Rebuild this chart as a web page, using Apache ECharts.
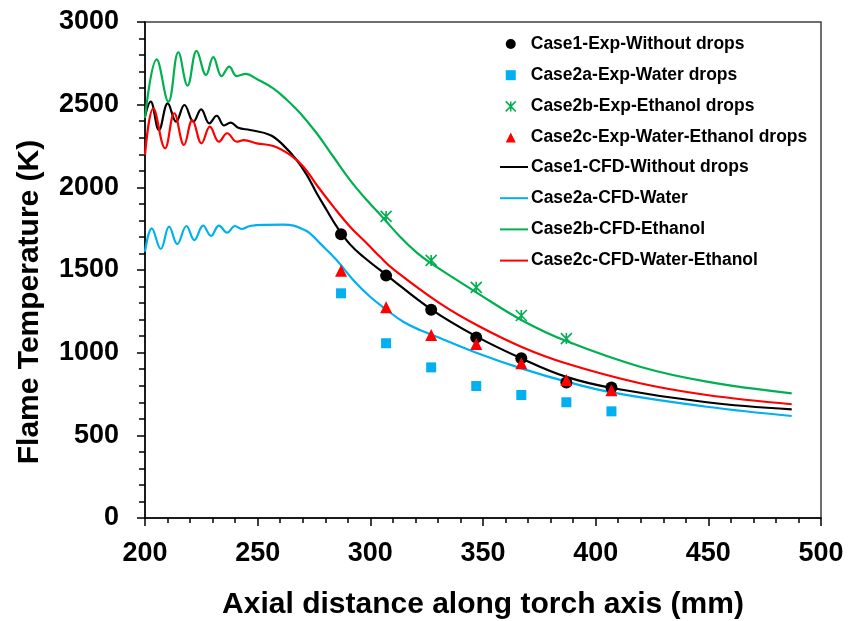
<!DOCTYPE html>
<html>
<head>
<meta charset="utf-8">
<script src="https://cdn.jsdelivr.net/npm/echarts@6/dist/echarts.min.js"></script>
<style>html,body{margin:0;padding:0;background:#fff}#c{width:850px;height:621px}</style>
</head>
<body>
<div id="c"></div>
<script>
// Experimental data
const expX = [287, 307, 327, 347, 367, 387, 407];
const expCase1 = [1716, 1466, 1260, 1092, 966, 820, 790];
const expCase2a = [1359, 1057, 911, 798, 744, 700, 645];
const expCase2bX = [307, 327, 347, 367, 387];
const expCase2b = [1824, 1558, 1395, 1225, 1085];
const expCase2c = [1496, 1274, 1107, 1052, 936, 835, 772];

// CFD curves
const cfd1X = [200, 202.5, 206.2, 210.1, 213.8, 217.5, 221.5, 224.9, 228.6, 231.8, 235.1, 238, 241.4, 246.6, 255.5, 261, 267.3, 271.8, 276.2, 280.6, 285.1, 291, 296.9, 307.3, 327, 347.2, 366.9, 386.7, 407.8, 449.3, 487];
const cfd1T = [2430, 2518, 2347, 2508, 2397, 2498, 2397, 2472, 2387, 2433, 2374, 2391, 2360, 2347, 2317, 2260, 2165, 2075, 1964, 1863, 1762, 1655, 1580, 1468, 1262, 1097, 966, 855, 785, 700, 657];

const cfd2aX = [200, 203, 207, 210.7, 214.3, 218.4, 221.9, 225.8, 229.3, 232.8, 236.5, 239.9, 242.9, 246.6, 254, 261.4, 266, 270.3, 273.2, 277.7, 285, 292.4, 299.9, 307.3, 314.6, 322, 327, 347, 367, 387, 407.8, 449.3, 487];
const cfd2aT = [1611, 1752, 1627, 1762, 1657, 1766, 1681, 1768, 1706, 1768, 1726, 1766, 1748, 1766, 1773, 1774, 1768, 1745, 1722, 1661, 1560, 1440, 1338, 1258, 1187, 1137, 1110, 1000, 905, 825, 758, 673, 617];

const cfd2bX = [200, 205.2, 210.4, 214.8, 218.9, 222.9, 227.1, 230.3, 234, 237.4, 240.7, 244.8, 249.6, 256.9, 262.9, 268.8, 276.2, 283.6, 291, 298.4, 305.8, 313.2, 320.6, 327, 347, 367, 387, 419.7, 449.3, 487];
const cfd2bT = [2420, 2774, 2518, 2817, 2615, 2825, 2680, 2787, 2673, 2730, 2673, 2686, 2655, 2598, 2530, 2450, 2327, 2185, 2044, 1923, 1813, 1701, 1605, 1540, 1365, 1198, 1070, 915, 825, 754];

const cfd2cX = [200, 203.7, 208.9, 213, 217.3, 221, 225.1, 228.8, 232.8, 236.5, 240.7, 243.9, 249.6, 256.9, 264.4, 270.3, 276.2, 283.6, 291, 298.4, 304.3, 310.2, 330.9, 347.2, 366.9, 386.7, 419.7, 449.3, 487];
const cfd2cT = [2196, 2478, 2236, 2448, 2256, 2407, 2266, 2367, 2276, 2327, 2276, 2286, 2266, 2250, 2196, 2125, 2014, 1883, 1762, 1662, 1580, 1505, 1298, 1167, 1036, 936, 815, 744, 688];

const xTicks = [200, 250, 300, 350, 400, 450, 500];
const yTicks = [0, 500, 1000, 1500, 2000, 2500, 3000];

const names = {
  e1: 'Case1-Exp-Without drops',
  e2a: 'Case2a-Exp-Water drops',
  e2b: 'Case2b-Exp-Ethanol drops',
  e2c: 'Case2c-Exp-Water-Ethanol drops',
  c1: 'Case1-CFD-Without drops',
  c2a: 'Case2a-CFD-Water',
  c2b: 'Case2b-CFD-Ethanol',
  c2c: 'Case2c-CFD-Water-Ethanol'
};
const BLACK = '#000000', BLUE = '#00B0F0', GREEN = '#00B050', RED = '#FF0000';
const STAR = 'path://M0,0L10,10M10,0L0,10M5,0L5,10';

function pairs(xs, ys) { return xs.map((x, i) => [x, ys[i]]); }

function lineSeries(name, xs, ys, color) {
  return { name, type: 'line', data: pairs(xs, ys), smooth: 0.4, showSymbol: false, symbol: 'none',
    lineStyle: { color, width: 2.2 }, itemStyle: { color }, z: 2, animation: false };
}
function scatterSeries(name, xs, ys, symbol, size, style) {
  return { name, type: 'scatter', data: pairs(xs, ys), symbol, symbolSize: size,
    itemStyle: Object.assign({ opacity: 1 }, style), z: 4, animation: false };
}

const fontFam = 'Arial, "Liberation Sans", sans-serif';
const chart = echarts.init(document.getElementById('c'), null, { renderer: 'canvas' });
chart.setOption({
  animation: false,
  grid: { left: 145, right: 29, top: 22, bottom: 103, show: true, borderColor: '#404040', borderWidth: 1.5,
    containLabel: false, outerBoundsMode: 'none' },
  legend: [
    { orient: 'vertical', left: 500, top: 30, itemWidth: 10, itemHeight: 10, itemGap: 13.2,
      textStyle: { fontFamily: fontFam, fontWeight: 'bold', fontSize: 17.5, color: '#000', padding: [0, 0, 0, 10] },
      data: [
        { name: names.e1, icon: 'circle', itemStyle: { color: BLACK } },
        { name: names.e2a, icon: 'rect', itemStyle: { color: BLUE } },
        { name: names.e2b, icon: STAR, itemStyle: { color: 'transparent', borderColor: GREEN, borderWidth: 1.5 } },
        { name: names.e2c, icon: 'triangle', itemStyle: { color: RED } }
      ] },
    { orient: 'vertical', left: 495, top: 153, itemWidth: 28, itemHeight: 2, itemGap: 13.2,
      textStyle: { fontFamily: fontFam, fontWeight: 'bold', fontSize: 17.5, color: '#000', padding: [0, 0, 0, -2] },
      data: [
        { name: names.c1, icon: 'rect', itemStyle: { color: BLACK } },
        { name: names.c2a, icon: 'rect', itemStyle: { color: BLUE } },
        { name: names.c2b, icon: 'rect', itemStyle: { color: GREEN } },
        { name: names.c2c, icon: 'rect', itemStyle: { color: RED } }
      ] }
  ],
  xAxis: {
    type: 'value', min: xTicks[0], max: xTicks[xTicks.length - 1], interval: 50,
    name: 'Axial distance along torch axis (mm)', nameLocation: 'middle', nameGap: 72,
    nameTextStyle: { fontFamily: fontFam, fontWeight: 'bold', fontSize: 30, color: '#000' },
    axisLine: { show: true, lineStyle: { color: '#000', width: 1.5 } },
    axisTick: { show: true, inside: false, length: 8, lineStyle: { color: '#000', width: 1.5 } },
    minorTick: { show: true, splitNumber: 5, length: 5, lineStyle: { color: '#000', width: 1.5 } },
    splitLine: { show: false },
    axisLabel: { margin: 22, fontFamily: fontFam, fontWeight: 'bold', fontSize: 27, color: '#000',
      formatter: v => String(v) }
  },
  yAxis: {
    type: 'value', min: yTicks[0], max: yTicks[yTicks.length - 1], interval: 500,
    name: 'Flame Temperature (K)', nameLocation: 'middle', nameGap: 100,
    nameTextStyle: { fontFamily: fontFam, fontWeight: 'bold', fontSize: 30, color: '#000', padding: [0, 64, 0, 0] },
    axisLine: { show: true, lineStyle: { color: '#000', width: 1.5 } },
    axisTick: { show: true, inside: false, length: 8, lineStyle: { color: '#000', width: 1.5 } },
    minorTick: { show: true, splitNumber: 5, length: 6, lineStyle: { color: '#000', width: 1.5 } },
    splitLine: { show: false },
    axisLabel: { margin: 26, fontFamily: fontFam, fontWeight: 'bold', fontSize: 27, color: '#000',
      formatter: v => String(v) }
  },
  series: [
    lineSeries(names.c1, cfd1X, cfd1T, BLACK),
    lineSeries(names.c2a, cfd2aX, cfd2aT, BLUE),
    lineSeries(names.c2b, cfd2bX, cfd2bT, GREEN),
    lineSeries(names.c2c, cfd2cX, cfd2cT, RED),
    scatterSeries(names.e1, expX, expCase1, 'circle', 12, { color: BLACK }),
    scatterSeries(names.e2a, expX, expCase2a, 'rect', 10, { color: BLUE }),
    scatterSeries(names.e2b, expCase2bX, expCase2b, STAR, 11, { color: 'transparent', borderColor: GREEN, borderWidth: 1.6 }),
    scatterSeries(names.e2c, expX, expCase2c, 'triangle', 12, { color: RED })
  ]
});
</script>
</body>
</html>
